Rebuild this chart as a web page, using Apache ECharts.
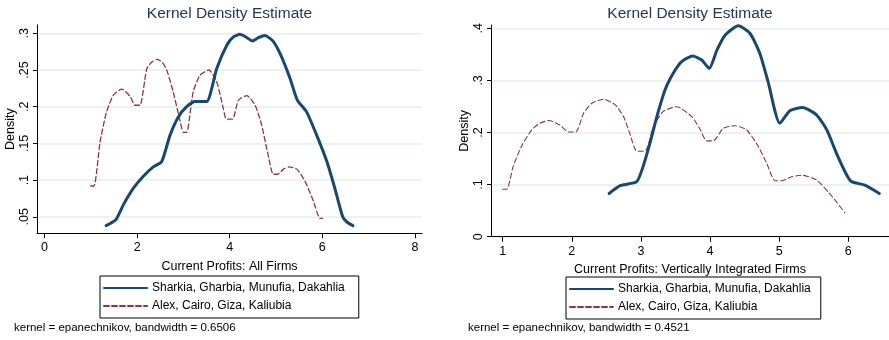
<!DOCTYPE html>
<html>
<head>
<meta charset="utf-8">
<script src="https://cdn.jsdelivr.net/npm/echarts@6/dist/echarts.min.js"></script>
<style>
html,body{margin:0;padding:0;background:#fff;}
#main{width:889px;height:340px;}
</style>
</head>
<body>
<div id="main"></div>
<script>
// ---------- data ----------
const seriesNames = ['Sharkia, Gharbia, Munufia, Dakahlia', 'Alex, Cairo, Giza, Kaliubia'];
const chartTitles = ['Kernel Density Estimate', 'Kernel Density Estimate'];
const xTitles = ['Current Profits: All Firms', 'Current Profits: Vertically Integrated Firms'];
const notes = ['kernel = epanechnikov, bandwidth = 0.6506', 'kernel = epanechnikov, bandwidth = 0.4521'];

const leftXTicks = [0, 2, 4, 6, 8];
const leftYTicks = [0.05, 0.1, 0.15, 0.2, 0.25, 0.3];
const rightXTicks = [1, 2, 3, 4, 5, 6];
const rightYTicks = [0, 0.1, 0.2, 0.3, 0.4];

// All firms: Sharkia, Gharbia, Munufia, Dakahlia
const allNorthX = [1.33,1.54,1.70,1.92,2.13,2.35,2.53,2.71,2.89,3.07,3.25,3.50,3.72,3.94,4.08,4.22,4.35,4.49,4.62,4.76,4.94,5.12,5.30,5.46,5.66,5.88,6.10,6.27,6.44,6.53,6.66];
const allNorthY = [0.038,0.046,0.066,0.089,0.105,0.118,0.125,0.161,0.186,0.200,0.207,0.207,0.252,0.284,0.295,0.2986,0.295,0.2895,0.294,0.297,0.289,0.268,0.239,0.209,0.193,0.161,0.125,0.089,0.050,0.043,0.038];
// All firms: Alex, Cairo, Giza, Kaliubia
const allSouthX = [1.00,1.07,1.20,1.34,1.49,1.67,1.85,1.95,2.06,2.21,2.32,2.44,2.55,2.64,2.78,2.93,3.00,3.07,3.21,3.36,3.55,3.72,3.86,3.93,4.06,4.19,4.37,4.55,4.69,4.83,4.94,5.03,5.16,5.29,5.45,5.63,5.81,5.95,6.01];
const allSouthY = [0.092,0.092,0.152,0.193,0.216,0.224,0.214,0.202,0.202,0.252,0.261,0.2646,0.260,0.250,0.220,0.180,0.165,0.165,0.220,0.243,0.250,0.234,0.198,0.183,0.183,0.209,0.215,0.202,0.175,0.134,0.108,0.108,0.115,0.118,0.115,0.098,0.071,0.048,0.048];
// Vertically integrated: Sharkia, Gharbia, Munufia, Dakahlia
const viNorthX = [2.54,2.70,2.94,3.03,3.13,3.23,3.35,3.47,3.59,3.75,3.88,3.99,4.10,4.22,4.41,4.58,4.72,4.84,5.01,5.16,5.34,5.54,5.69,5.83,5.98,6.05,6.24,6.45];
const viNorthY = [0.083,0.098,0.1056,0.134,0.179,0.230,0.282,0.314,0.336,0.347,0.339,0.323,0.358,0.387,0.405,0.390,0.352,0.2975,0.2177,0.242,0.248,0.234,0.205,0.160,0.118,0.1056,0.099,0.083];
// Vertically integrated: Alex, Cairo, Giza, Kaliubia
const viSouthX = [1.00,1.06,1.15,1.27,1.42,1.54,1.67,1.83,1.95,2.06,2.17,2.29,2.46,2.63,2.75,2.84,2.94,3.06,3.18,3.32,3.52,3.74,3.86,3.95,4.05,4.19,4.36,4.53,4.70,4.82,4.94,5.04,5.18,5.33,5.54,5.71,5.83,5.95];
const viSouthY = [0.091,0.091,0.134,0.173,0.205,0.218,0.223,0.214,0.201,0.201,0.237,0.256,0.264,0.253,0.230,0.198,0.164,0.164,0.211,0.240,0.2495,0.230,0.205,0.184,0.184,0.208,0.213,0.205,0.173,0.141,0.1075,0.1075,0.115,0.118,0.109,0.086,0.067,0.046];

// ---------- styling ----------
const FONT = '"Liberation Sans", Arial, sans-serif';
const NAVY = '#1a476f';
const MAROON = '#90353b';
const GRID = '#e6eef1';
const TITLE = '#26355c';

const zip = (xs, ys) => xs.map((x, i) => [x, ys[i]]);
const fmtY = v => v === 0 ? '0' : String(+v.toFixed(2)).replace(/^0\./, '.');

function xAxis(gridIndex, min, max, ticks, name, nameGap) {
  return {
    type: 'value', gridIndex, min, max,
    name, nameLocation: 'middle', nameGap,
    nameTextStyle: {fontFamily: FONT, fontSize: 12.5, color: '#000'},
    axisLine: {show: true, onZero: false, lineStyle: {color: '#000', width: 1}},
    axisTick: {show: true, length: 5, customValues: ticks, lineStyle: {color: '#000'}},
    axisLabel: {customValues: ticks, fontFamily: FONT, fontSize: 12.5, color: '#000', margin: 8},
    splitLine: {show: false}
  };
}
function yAxis(gridIndex, min, max, ticks) {
  return {
    type: 'value', gridIndex, min, max,
    name: 'Density', nameLocation: 'middle', nameGap: 19,
    nameTextStyle: {fontFamily: FONT, fontSize: 12.5, color: '#000'},
    axisLine: {show: true, onZero: false, lineStyle: {color: '#000', width: 1}},
    axisTick: {show: true, length: 4, customValues: ticks, lineStyle: {color: '#000'}},
    axisLabel: {customValues: ticks, rotate: 90, fontFamily: FONT, fontSize: 12.5, color: '#000', margin: 6, formatter: fmtY},
    splitLine: {show: true, lineStyle: {color: GRID, width: 1.5}}
  };
}
function line(name, xi, data, color, width, dashed) {
  return {
    type: 'line', name, xAxisIndex: xi, yAxisIndex: xi, data,
    showSymbol: false, symbol: 'none', smooth: 0.2,
    lineStyle: {color, width, type: dashed ? [5, 3] : 'solid', cap: 'round', join: 'round'},
    itemStyle: {color}, animation: false, silent: true, z: dashed ? 2 : 3
  };
}
function legend(left, top, rightPad) {
  return {
    left, top, orient: 'vertical', data: seriesNames,
    borderColor: '#000', borderWidth: 1, borderRadius: 0,
    padding: [6, rightPad, 6, 3], itemGap: 6, itemWidth: 43, itemHeight: 12,
    itemStyle: {color: 'rgba(0,0,0,0)', borderColor: 'rgba(0,0,0,0)', borderWidth: 0, opacity: 0},
    textStyle: {fontFamily: FONT, fontSize: 12, color: '#000'},
    selectedMode: false
  };
}

const option = {
  backgroundColor: '#fff',
  animation: false,
  title: [
    {text: chartTitles[0], left: 229.5, textAlign: 'center', top: 6, padding: 0, textStyle: {fontFamily: FONT, fontSize: 15.5, fontWeight: 'normal', color: TITLE}},
    {text: chartTitles[1], left: 690, textAlign: 'center', top: 6, padding: 0, textStyle: {fontFamily: FONT, fontSize: 15.5, fontWeight: 'normal', color: TITLE}},
    {text: notes[0], left: 14, top: 322, padding: 0, textStyle: {fontFamily: FONT, fontSize: 11.5, fontWeight: 'normal', color: '#000'}},
    {text: notes[1], left: 468, top: 322, padding: 0, textStyle: {fontFamily: FONT, fontSize: 11.5, fontWeight: 'normal', color: '#000'}}
  ],
  legend: [legend(100, 276, 14), legend(566, 277, 10)],
  grid: [
    {left: 37, right: 467, top: 25, bottom: 106.7},
    {left: 491, right: 0, top: 25, bottom: 103.3}
  ],
  xAxis: [
    xAxis(0, -0.162, 8.153, leftXTicks, xTitles[0], 27),
    xAxis(1, 0.831, 6.59, rightXTicks, xTitles[1], 20)
  ],
  yAxis: [
    yAxis(0, 0.0276, 0.3113, leftYTicks),
    yAxis(1, 0, 0.4063, rightYTicks)
  ],
  series: [
    line(seriesNames[0], 0, zip(allNorthX, allNorthY), NAVY, 3, false),
    line(seriesNames[1], 0, zip(allSouthX, allSouthY), MAROON, 1.3, true),
    line(seriesNames[0], 1, zip(viNorthX, viNorthY), NAVY, 3, false),
    line(seriesNames[1], 1, zip(viSouthX, viSouthY), MAROON, 1.1, true)
  ]
};

const chart = echarts.init(document.getElementById('main'), null, {renderer: 'canvas'});
chart.setOption(option);
</script>
</body>
</html>
